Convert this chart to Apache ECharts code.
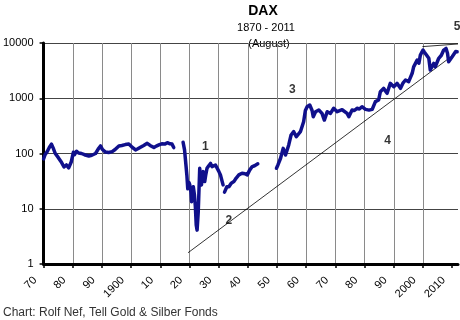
<!DOCTYPE html>
<html>
<head>
<meta charset="utf-8">
<script src="https://cdn.jsdelivr.net/npm/echarts@6/dist/echarts.min.js"></script>
<style>html,body{margin:0;padding:0;background:#fff}#c{width:460px;height:320px}</style>
</head>
<body>
<div id="c"></div>
<script>
// DAX 1870-2011 (yearly-ish readings); null = market closed / no data
var years = [
1870,1870.5,1871.3,1872,1872.7,1873.3,1874,1875,1876,1877,1877.8,1878.6,1879.5,1880.2,1880.6,1881.3,1882,1883,1884,1885.5,1886.5,1887.8,1888.7,1889.5,1890.2,1891.2,1892.3,1893.5,1894.5,1895.8,1896.8,1898,1899.2,1900.2,1901.5,1902.3,1903.2,1904.3,1905.5,1906.5,1907.8,1908.6,1909.5,1910.5,1911.5,1912.4,1913.3,1914.0,1914.6,
1916,
1917.8,1918.3,1918.8,1919.1,1919.4,1919.8,1920.1,1920.5,1920.7,1921.0,1921.3,1921.7,1922.0,1922.3,1922.6,1923.0,1923.5,1923.8,1924.1,1924.4,1924.7,1925.2,1925.6,1926.0,1926.6,1927.2,1927.7,1928.3,1928.9,1929.5,1930.0,1930.6,1931.2,1931.5,
1931.8,
1932.0,1932.8,1933.5,1934.3,1935.2,1936,1936.9,1937.5,1938,1939,1939.8,1940.6,1941.5,1942.3,1943.4,
1946,
1949.8,1950.3,1951.2,1952.1,1952.9,1954.0,1954.8,1955.7,1956.6,1958.0,1959.1,1959.7,1960.3,1961.2,1962.0,1962.4,1963.2,1964.3,1965.4,1966.2,1967.2,1968.3,1969.4,1970.6,1971.1,1972.3,1972.8,1974.0,1974.6,1975.7,1976.5,1977.4,1978.2,1979.1,1980.3,1981.5,1982.6,1983.7,1984.8,1985.4,1986.5,1987.7,1988.8,1990.0,1991.1,1992.3,1993.2,1994.0,1995.1,1996.3,1996.8,1998.0,1998.6,1999.1,2000.0,2000.5,2001.2,2002.0,2002.5,2003.1,2003.7,2004.2,2005.4,2006.3,2007.1,2007.9,2008.4,2008.8,2009.4,2010.0,2010.6,2011.2,2011.7
];
var daxValues = [
80,95,110,130,148,125,100,85,71,57,62,55,71,105,95,110,102,100,95,90,93,100,120,137,118,106,104,108,118,137,140,145,148,132,116,122,130,140,153,140,128,136,143,150,148,157,150,148,128,
null,
160,116,60,40,23,30,27,20,13.4,22,25,17.7,11,5.1,4.1,8.9,54,35,27,40,47,31,42,54,60,66,58,54,62,58,48,41,31,27,
null,
20,25,25,29,31,36,41,42,44,43,41,50,58,60,65,
null,
54,62,82,124,94,143,216,248,201,248,376,600,703,755,600,463,571,612,533,403,571,533,658,571,533,620,658,533,463,612,600,658,640,703,630,610,630,870,930,1315,1510,1230,1860,1620,1860,1510,1900,2140,2000,2830,3700,4900,4300,6040,7450,6800,6040,5290,3250,3020,4270,3700,5290,6000,7450,7970,6500,4590,4270,5640,6040,7000,6950
];
// trend lines (year, value)
var trend24Years = [1919.5, 2012];
var trend24Values = [1.6, 7000];
var trend5Years = [1999.8, 2012];
var trend5Values = [8600, 9600];
// numbered annotations
var noteLabels = ['1','2','3','4','5'];
var noteYears = [1925.4, 1933.5, 1955.2, 1987.9, 2011.7];
var noteValues = [133, 6.1, 1410, 171, 19700];
// x tick labels
var xTickYears = [1870,1880,1890,1900,1910,1920,1930,1940,1950,1960,1970,1980,1990,2000,2010];
var xTickLabels = ['70','80','90','1900','10','20','30','40','50','60','70','80','90','2000','2010'];

var FONT = '"Liberation Sans", Arial, sans-serif';
function pairs(xs, ys){ return xs.map(function(x,i){ return [x, ys[i] == null ? '-' : ys[i]]; }); }

var chart = echarts.init(document.getElementById('c'), null, {renderer:'canvas'});
chart.setOption({
  animation:false,
  backgroundColor:'#fff',
  grid:{left:43, right:2, top:43, bottom:56, containLabel:false},
  xAxis:{
    type:'value', min:1870, max:2012, interval:10,
    axisLine:{show:true, onZero:false, lineStyle:{color:'#000', width:3}},
    axisTick:{show:true, length:4, customValues:xTickYears, lineStyle:{color:'#000', width:1.5}},
    splitLine:{show:true, showMaxLine:false, lineStyle:{color:'#8a8a8a', width:1}},
    axisLabel:{rotate:45, margin:6, padding:[0,12,0,0], fontSize:11, color:'#000', fontFamily:FONT,
      customValues:xTickYears,
      formatter:function(v){ var i = xTickYears.indexOf(v); return i < 0 ? '' : xTickLabels[i]; }}
  },
  yAxis:{
    type:'log', logBase:10, min:1, max:10000,
    axisLine:{show:true, lineStyle:{color:'#000', width:3}},
    axisTick:{show:true, length:4, lineStyle:{color:'#000', width:1.5}},
    splitLine:{show:true, lineStyle:{color:'#444', width:1}},
    minorTick:{show:false},
    axisLabel:{margin:10, fontSize:11, color:'#000', fontFamily:FONT,
      formatter:function(v){ return String(Math.round(v)); }}
  },
  graphic:[
    {type:'text', x:263, y:11, style:{text:'DAX', font:'bold 14px '+FONT, fill:'#000', align:'center', verticalAlign:'middle'}},
    {type:'text', x:266, y:28, style:{text:'1870 - 2011', font:'11px '+FONT, fill:'#000', align:'center', verticalAlign:'middle'}},
    {type:'text', x:269, y:44, style:{text:'(August)', font:'11px '+FONT, fill:'#000', align:'center', verticalAlign:'middle'}},
    {type:'text', x:3, y:313, style:{text:'Chart: Rolf Nef, Tell Gold & Silber Fonds', font:'12px '+FONT, fill:'#333', align:'left', verticalAlign:'middle'}}
  ],
  series:[
    {type:'line', data:pairs(trend24Years, trend24Values), symbol:'none', lineStyle:{color:'#000', width:0.8}, z:2},
    {type:'line', data:pairs(trend5Years, trend5Values), symbol:'none', lineStyle:{color:'#000', width:0.8}, z:2},
    {type:'line', data:pairs(years, daxValues), symbol:'none', connectNulls:false,
      lineStyle:{color:'#10108c', width:3.5, join:'round', cap:'round'}, z:3},
    {type:'scatter', symbolSize:0, clip:false, z:4,
      data:noteYears.map(function(x,i){ return {name:noteLabels[i], value:[x, noteValues[i]]}; }),
      label:{show:true, position:'inside', formatter:'{b}', fontSize:12, fontWeight:'bold', color:'#000', fontFamily:FONT}}
  ]
});
</script>
</body>
</html>
